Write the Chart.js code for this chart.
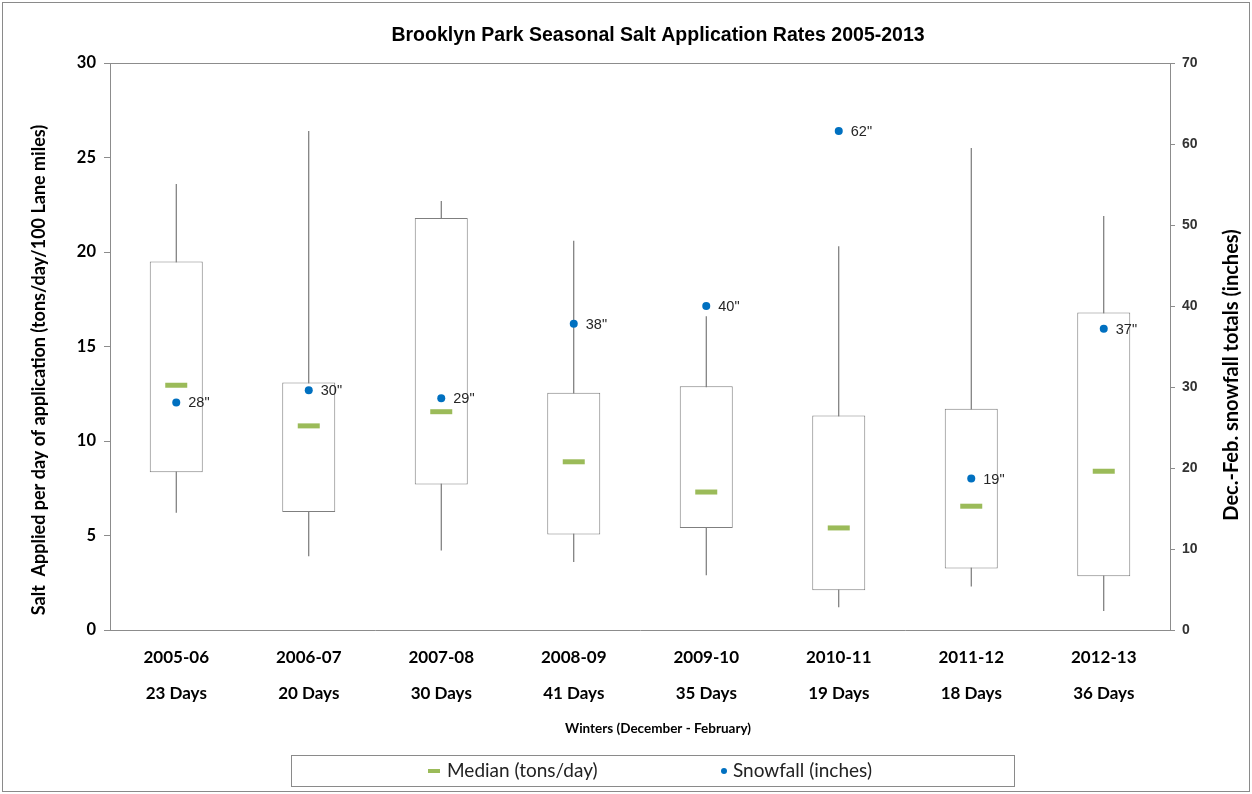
<!DOCTYPE html>
<html lang="en">
<head>
<meta charset="UTF-8">
<title>Brooklyn Park Seasonal Salt Application Rates</title>
<script src="https://cdn.jsdelivr.net/npm/chart.js"></script>
<style>
  html, body { margin: 0; padding: 0; background: #fff; }
  #wrap { width: 1252px; height: 794px; }
</style>
</head>
<body>
<div id="wrap"><canvas id="saltChart" width="1252" height="794"></canvas></div>
<script>
const winters = ['2005-06', '2006-07', '2007-08', '2008-09', '2009-10', '2010-11', '2011-12', '2012-13'];
const daysOfApplication = ['23 Days', '20 Days', '30 Days', '41 Days', '35 Days', '19 Days', '18 Days', '36 Days'];

// salt applied, tons/day/100 lane miles
const saltMin = [6.2, 3.9, 4.2, 3.6, 2.9, 1.2, 2.3, 1.0];
const saltQ1 = [8.35, 6.25, 7.7, 5.05, 5.4, 2.1, 3.25, 2.85];
const saltMedian = [12.95, 10.8, 11.55, 8.9, 7.3, 5.4, 6.55, 8.4];
const saltQ3 = [19.5, 13.1, 21.8, 12.55, 12.9, 11.35, 11.7, 16.8];
const saltMax = [23.6, 26.4, 22.7, 20.6, 16.6, 20.3, 25.5, 21.9];

// Dec-Feb snowfall, inches
const snowfall = [28.1, 29.6, 28.6, 37.8, 40.0, 61.6, 18.7, 37.2];

const saltTicks = [0, 5, 10, 15, 20, 25, 30];
const snowTicks = [0, 10, 20, 30, 40, 50, 60, 70];

const chartTitle = 'Brooklyn Park Seasonal Salt Application Rates 2005-2013';
const leftTitle = 'Salt  Applied per day of application (tons/day/100 Lane miles)';
const rightTitle = 'Dec.-Feb. snowfall totals (inches)';
const xTitle = 'Winters (December - February)';

const GREEN = '#9BBB59';
const BLUE = '#0070C0';
const GREY = '#7f7f7f';
const AXIS = '#8c8c8c';
const calibri = 'Lato, "Open Sans", sans-serif';
const arial = '"Liberation Sans", Arial, sans-serif';

Chart.defaults.font.family = calibri;
Chart.defaults.color = '#000';

const decor = {
    id: 'decor',
    beforeDraw(chart) {
        const ctx = chart.ctx;
        ctx.save();
        ctx.fillStyle = '#fff';
        ctx.fillRect(0, 0, chart.width, chart.height);
        ctx.strokeStyle = '#8a8a8a';
        ctx.lineWidth = 1;
        ctx.strokeRect(2.5, 2.5, chart.width - 5, chart.height - 5);
        ctx.restore();
    },
    beforeDatasetsDraw(chart) {
        const {ctx, chartArea} = chart;
        ctx.save();
        ctx.strokeStyle = AXIS;
        ctx.lineWidth = 1;
        ctx.beginPath();
        ctx.moveTo(chartArea.left, Math.round(chartArea.top) + 0.5);
        ctx.lineTo(chartArea.right, Math.round(chartArea.top) + 0.5);
        ctx.stroke();
        ctx.restore();
    },
    afterDatasetsDraw(chart) {
        const ctx = chart.ctx;
        const meta = chart.getDatasetMeta(1);
        ctx.save();
        ctx.font = '14.5px ' + arial;
        ctx.fillStyle = '#262626';
        ctx.textAlign = 'left';
        ctx.textBaseline = 'middle';
        meta.data.forEach((pt, i) => {
            ctx.fillText(Math.round(snowfall[i]) + '"', pt.x + 12, pt.y + 1);
        });
        ctx.restore();
    },
    afterDraw(chart) {
        const ctx = chart.ctx;
        ctx.save();
        ctx.fillStyle = '#000';
        ctx.textAlign = 'center';
        ctx.textBaseline = 'middle';

        ctx.font = 'bold 19.5px ' + arial;
        ctx.fillText(chartTitle, 658, 36);

        ctx.font = 'bold 13.5px ' + calibri;
        ctx.fillText(xTitle, 658, 729);

        ctx.save();
        ctx.translate(39, 370);
        ctx.rotate(-Math.PI / 2);
        ctx.font = 'bold 18px ' + calibri;
        ctx.fillText(leftTitle, 0, 0);
        ctx.restore();

        ctx.save();
        ctx.translate(1232, 375);
        ctx.rotate(-Math.PI / 2);
        ctx.font = 'bold 20px ' + calibri;
        ctx.fillText(rightTitle, 0, 0);
        ctx.restore();

        // legend
        ctx.strokeStyle = '#8a8a8a';
        ctx.lineWidth = 1;
        ctx.strokeRect(291.5, 755.5, 723, 31);
        ctx.font = '19px ' + calibri;
        ctx.textAlign = 'left';
        ctx.fillStyle = GREEN;
        ctx.fillRect(428, 769, 12, 4);
        ctx.fillStyle = '#222';
        ctx.fillText(chart.data.datasets[0].label, 447, 771);
        ctx.fillStyle = BLUE;
        ctx.beginPath();
        ctx.arc(724, 771, 3, 0, Math.PI * 2);
        ctx.fill();
        ctx.fillStyle = '#222';
        ctx.fillText(chart.data.datasets[1].label, 733, 771);
        ctx.restore();
    }
};

const ctx = document.getElementById('saltChart').getContext('2d');
const saltChart = new Chart(ctx, {
    type: 'bar',
    data: {
        labels: winters.map((w, i) => [w, daysOfApplication[i]]),
        datasets: [
            {
                type: 'line',
                label: 'Median (tons/day)',
                data: saltMedian,
                yAxisID: 'y',
                showLine: false,
                pointStyle: 'line',
                pointRadius: 11,
                pointBorderWidth: 5,
                pointBorderColor: GREEN,
                pointBackgroundColor: GREEN
            },
            {
                type: 'line',
                label: 'Snowfall (inches)',
                data: snowfall,
                yAxisID: 'y2',
                showLine: false,
                pointRadius: 4,
                pointBorderWidth: 0,
                pointBackgroundColor: BLUE,
                pointBorderColor: BLUE
            },
            {
                label: 'Box',
                data: saltQ1.map((q, i) => [q, saltQ3[i]]),
                yAxisID: 'y',
                grouped: false,
                categoryPercentage: 1,
                barPercentage: 0.4,
                backgroundColor: '#fff',
                borderColor: GREY,
                borderWidth: 1,
                borderSkipped: false
            },
            {
                label: 'Whisker',
                data: saltMin.map((m, i) => [m, saltMax[i]]),
                yAxisID: 'y',
                grouped: false,
                categoryPercentage: 1,
                barPercentage: 0.008,
                backgroundColor: '#666',
                borderWidth: 0
            }
        ]
    },
    options: {
        responsive: false,
        animation: false,
        events: [],
        layout: { padding: { top: 63, left: 0, right: 0, bottom: 0 } },
        plugins: {
            legend: { display: false },
            title: { display: false },
            tooltip: { enabled: false }
        },
        scales: {
            x: {
                grid: { display: false, drawTicks: false },
                border: { display: true, color: AXIS, width: 1 },
                ticks: {
                    padding: 9,
                    color: '#000',
                    font: { family: calibri, size: 17, weight: 'bold', lineHeight: 2.12 },
                    maxRotation: 0,
                    autoSkip: false
                },
                afterFit(scale) { scale.height = 164; }
            },
            y: {
                position: 'left',
                min: 0,
                max: 30,
                afterBuildTicks(scale) { scale.ticks = saltTicks.map(v => ({value: v})); },
                grid: { drawOnChartArea: false, drawTicks: true, tickLength: 6, color: AXIS },
                border: { display: true, color: AXIS, width: 1 },
                ticks: {
                    padding: 8,
                    color: '#000',
                    font: { family: calibri, size: 16.5, weight: 'bold' }
                },
                afterFit(scale) { scale.width = 110; }
            },
            y2: {
                position: 'right',
                min: 0,
                max: 70,
                afterBuildTicks(scale) { scale.ticks = snowTicks.map(v => ({value: v})); },
                grid: { drawOnChartArea: false, drawTicks: true, tickLength: 5, color: AXIS },
                border: { display: true, color: AXIS, width: 1 },
                ticks: {
                    padding: 7,
                    color: '#333',
                    font: { family: arial, size: 14, weight: 'bold' }
                },
                afterFit(scale) { scale.width = 82; }
            }
        }
    },
    plugins: [decor]
});
</script>
</body>
</html>
